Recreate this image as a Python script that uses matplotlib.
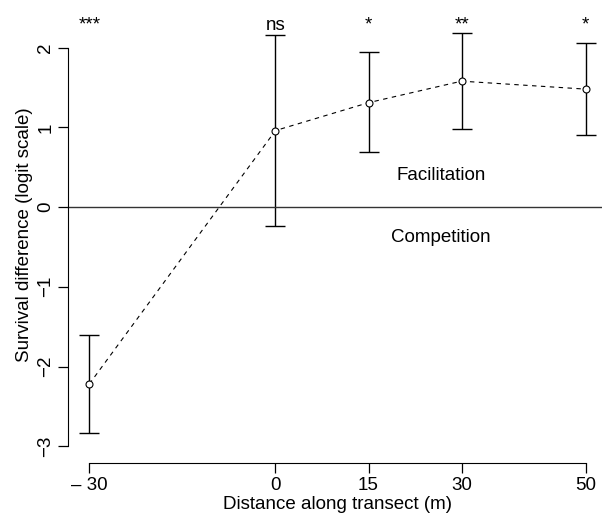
import matplotlib.pyplot as plt

plt.rcParams['font.family'] = ['Liberation Sans', 'DejaVu Sans']

distance = [-30, 0, 15, 30, 50]
survival = [-2.22, 0.96, 1.31, 1.58, 1.48]
ci_low = [-2.84, -0.24, 0.69, 0.98, 0.90]
ci_high = [-1.60, 2.16, 1.94, 2.19, 2.06]
signif = ["***", "ns", "*", "**", "*"]
xtick_labels = ["\u2013 30", "0", "15", "30", "50"]
yticks = [-3, -2, -1, 0, 1, 2]
ytick_labels = ["\u22123", "\u22122", "\u22121", "0", "1", "2"]

fs = 13.5
W, H = 602, 518
fig = plt.figure(figsize=(W / 100, H / 100), dpi=100)
# axes box in pixels: left 75, right 600, top 15, bottom 455
ax = fig.add_axes([75 / W, 1 - 455 / H, 525 / W, 440 / H])
ax.set_xlim(-32.3, 52.3)
ax.set_ylim(-3.11, 2.41)

yerr = [[s - lo for s, lo in zip(survival, ci_low)],
        [hi - s for s, hi in zip(survival, ci_high)]]
ax.errorbar(distance, survival, yerr=yerr, fmt='none', ecolor='black',
            elinewidth=1, capsize=7, capthick=1)
ax.plot(distance, survival, color='black', lw=0.8, dashes=(4, 4))
ax.plot(distance, survival, 'o', ms=5, mfc='white', mec='black', mew=0.8)

ax.axhline(0, xmin=-0.013, xmax=1.01, color='#333333', lw=1, clip_on=False)

for x, s in zip(distance, signif):
    ax.text(x, 2.226, s, ha='center', va='baseline', fontsize=fs)

ax.text(26.7, 0.40, "Facilitation", ha='center', va='center', fontsize=fs)
ax.text(26.7, -0.38, "Competition", ha='center', va='center', fontsize=fs)

for side in ['top', 'right']:
    ax.spines[side].set_visible(False)
ax.spines['left'].set_position(('outward', 5))
ax.spines['bottom'].set_position(('outward', 6))
ax.spines['left'].set_bounds(-3, 2)
ax.spines['bottom'].set_bounds(-30, 50)

ax.set_xticks(distance)
ax.set_xticklabels(xtick_labels)
ax.set_yticks(yticks)
ax.set_yticklabels(ytick_labels, rotation=90, va='center')
ax.tick_params(length=7, width=0.9, labelsize=fs, pad=3)

ax.set_xlabel("Distance along transect (m)", fontsize=fs, labelpad=1)
ax.set_ylabel("Survival difference (logit scale)", fontsize=fs, labelpad=3)

fig.savefig("out.png", dpi=100)
